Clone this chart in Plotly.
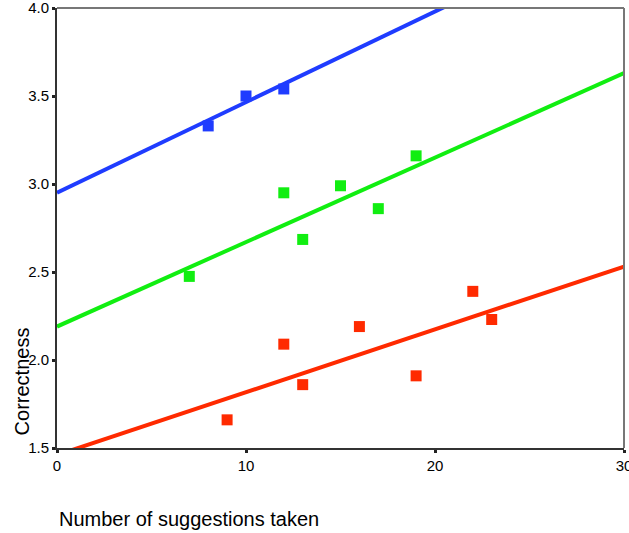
import plotly.graph_objects as go

# Data
blue_x = [8, 10, 12]
blue_y = [3.33, 3.50, 3.54]
green_x = [7, 12, 13, 15, 17, 19]
green_y = [2.475, 2.95, 2.685, 2.99, 2.86, 3.16]
red_x = [9, 12, 13, 16, 19, 22, 23]
red_y = [1.66, 2.09, 1.86, 2.19, 1.91, 2.39, 2.23]

# Fit lines (intercept, slope) as drawn
fit_x = [0, 30]
blue_fit = (2.95, 0.0515)
green_fit = (2.19, 0.048)
red_fit = (1.46, 0.0357)

x_ticks = [0, 10, 20, 30]
y_ticks = [1.5, 2.0, 2.5, 3.0, 3.5, 4.0]

colors = {"blue": "#1f3cff", "green": "#11ee11", "red": "#ff2a00"}

fig = go.Figure()
for name, xs, ys, fit in [("blue", blue_x, blue_y, blue_fit),
                          ("green", green_x, green_y, green_fit),
                          ("red", red_x, red_y, red_fit)]:
    c = colors[name]
    fig.add_trace(go.Scatter(x=fit_x, y=[fit[0] + fit[1] * v for v in fit_x],
                             mode="lines", line=dict(color=c, width=4),
                             showlegend=False, hoverinfo="skip"))
    fig.add_trace(go.Scatter(x=xs, y=ys, mode="markers",
                             marker=dict(symbol="square", size=11, color=c,
                                         line=dict(width=0)),
                             showlegend=False, cliponaxis=False))

font = "Liberation Sans, Arial, sans-serif"
axis_common = dict(showgrid=False, zeroline=False, showline=True, linecolor="#333",
                   linewidth=2, ticks="outside", ticklen=3, tickwidth=3,
                   tickcolor="#222", tickfont=dict(size=15),
                   ticklabeloverflow="allow", automargin=False)
fig.update_layout(
    width=629, height=533,
    margin=dict(l=57, r=5, t=8, b=85, autoexpand=False),
    paper_bgcolor="white", plot_bgcolor="white",
    font=dict(family=font, size=15, color="black"),
    xaxis=dict(range=[0, 30], tickvals=x_ticks, ticktext=[str(v) for v in x_ticks],
               **axis_common),
    yaxis=dict(range=[1.5, 4.0], tickvals=y_ticks, ticktext=[f"{v:.1f}" for v in y_ticks],
               **axis_common),
    shapes=[
        dict(type="line", xref="paper", yref="paper", x0=0, x1=1, y0=1, y1=1,
             line=dict(color="#777", width=2)),
        dict(type="line", xref="paper", yref="paper", x0=1, x1=1, y0=0, y1=1,
             line=dict(color="#777", width=2)),
    ],
    annotations=[
        dict(text="Correctness", xref="paper", yref="paper", x=-0.062, y=0.151,
             xanchor="center", yanchor="middle", textangle=-90, showarrow=False,
             font=dict(size=20, family=font)),
        dict(text="Number of suggestions taken", xref="paper", yref="paper",
             x=0, y=-0.162, xanchor="left", yanchor="middle", showarrow=False,
             font=dict(size=20, family=font)),
    ],
)

fig.write_html("out.html")
